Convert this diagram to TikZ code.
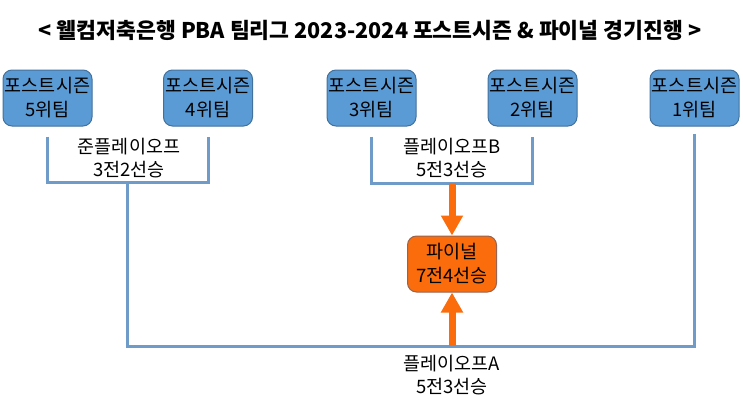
\documentclass[tikz,border=0pt]{standalone}
\usepackage{fontspec}
\setmainfont{Noto Sans CJK KR}
\usetikzlibrary{arrows.meta}
\definecolor{teamblue}{RGB}{91,155,213}
\definecolor{teamedge}{RGB}{65,113,156}
\definecolor{linkblue}{RGB}{110,155,200}
\definecolor{finalorange}{RGB}{250,108,12}
\definecolor{finaledge}{RGB}{150,100,80}
\begin{document}
\begin{tikzpicture}[x=1pt,y=1pt,
  team/.style={draw=teamedge, line width=1pt, fill=teamblue, rounded corners=9pt, align=center,
    minimum width=89pt, minimum height=56pt, inner sep=0pt, font=\fontsize{18.5}{24}\selectfont},
  final/.style={team, draw=finaledge, fill=finalorange},
  note/.style={align=center, font=\fontsize{18.5}{23}\selectfont},
  link/.style={draw=linkblue, line width=3pt},
  flow/.style={draw=finalorange, line width=7pt, -{Triangle[width=21pt,length=20pt]}}]
\useasboundingbox (0,0) rectangle (743,-408);
\node[font=\bfseries\fontsize{21.6}{24}\selectfont] (title) at (370,-30) {< 웰컴저축은행 PBA 팀리그 2023-2024 포스트시즌 \& 파이널 경기진행 >};
\node[team] (t5) at (47.5,-98) {포스트시즌\\5위팀};
\node[team] (t4) at (208,-98) {포스트시즌\\4위팀};
\node[team] (t3) at (371.5,-98) {포스트시즌\\3위팀};
\node[team] (t2) at (532.5,-98) {포스트시즌\\2위팀};
\node[team] (t1) at (694.5,-98) {포스트시즌\\1위팀};
\node[final] (fin) at (452,-264) {파이널\\7전4선승};
\node[note] (qflabel) at (129,-158) {준플레이오프\\3전2선승};
\node[note] (pblabel) at (452,-158) {플레이오프B\\5전3선승};
\node[note] (palabel) at (452,-375) {플레이오프A\\5전3선승};
\coordinate (qf) at (127.5,-182);
\coordinate (pb) at (452,-183);
\coordinate (pa) at (452,-346);
\draw[link] ([yshift=-10pt]t5.south) |- (qf) -| ([yshift=-10pt]t4.south);
\draw[link] ([yshift=-10pt]t3.south) |- (pb) -| ([yshift=-10pt]t2.south);
\draw[link] (qf) |- (pa) -| ([yshift=-7pt]t1.south);
\draw[flow] (pb) -- (fin);
\draw[flow] (pa) -- (fin);
\end{tikzpicture}
\end{document}
